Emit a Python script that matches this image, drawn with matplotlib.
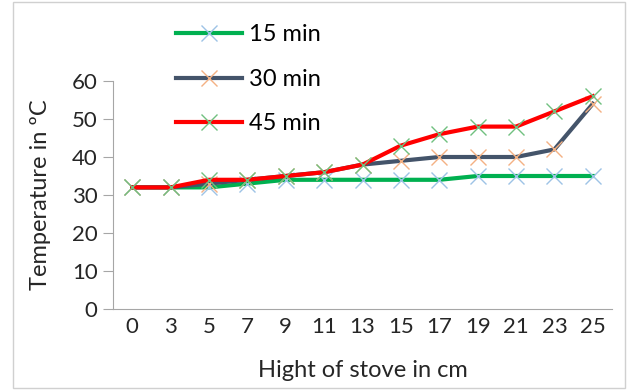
import matplotlib.pyplot as plt
from matplotlib.patches import Rectangle

plt.rcParams['font.family'] = ['Lato', 'DejaVu Sans']

heights = ['0', '3', '5', '7', '9', '11', '13', '15', '17', '19', '21', '23', '25']
t15 = [32, 32, 32, 33, 34, 34, 34, 34, 34, 35, 35, 35, 35]
t30 = [32, 32, 33, 34, 35, 36, 38, 39, 40, 40, 40, 42, 54]
t45 = [32, 32, 34, 34, 35, 36, 38, 43, 46, 48, 48, 52, 56]
labels = ['15 min', '30 min', '45 min']

fig = plt.figure(figsize=(6.27, 3.9), dpi=100)
fig.patches.append(Rectangle((13 / 627, 0.004), 612 / 627, 0.992, transform=fig.transFigure,
                             fill=False, edgecolor='#d0d0d0', linewidth=1))
ax = fig.add_axes([113 / 627, 81 / 390, 499 / 627, 228 / 390])

x = range(len(heights))
ax.plot(x, t15, color='#00b050', lw=3, marker='x', ms=12, mew=1, mec='#9dc3e6', label=labels[0])
ax.plot(x, t30, color='#44546a', lw=3, marker='x', ms=12, mew=1, mec='#f4b183', label=labels[1])
ax.plot(x, t45, color='#ff0000', lw=3, marker='x', ms=12, mew=1, mec='#70c080', label=labels[2])

fs = 17
ax.set_xlim(-0.5, len(heights) - 0.5)
ax.set_ylim(0, 60)
ax.set_yticks(range(0, 61, 10))
ax.set_xticks(list(x))
ax.set_xticklabels(heights)
for s in ['top', 'right']:
    ax.spines[s].set_visible(False)
for s in ['left', 'bottom']:
    ax.spines[s].set_color('#a6a6a6')
ax.tick_params(axis='y', length=7, color='#a6a6a6', labelsize=16, labelcolor='#262626', pad=4)
ax.tick_params(axis='x', length=0, labelsize=16, labelcolor='#262626', pad=6)

ax.set_xlabel('Hight of stove in cm', fontsize=fs, color='#262626', labelpad=16)
ax.set_ylabel('Temperature in \u00baC', fontsize=fs, color='#262626', labelpad=15)

ax.legend(loc='upper left', bbox_to_anchor=(155 / 627, 1 - 3 / 390), bbox_transform=fig.transFigure,
          frameon=False, fontsize=fs, handlelength=2.8, labelspacing=1.0, handletextpad=0.3)

fig.savefig('out.png', dpi=100)
